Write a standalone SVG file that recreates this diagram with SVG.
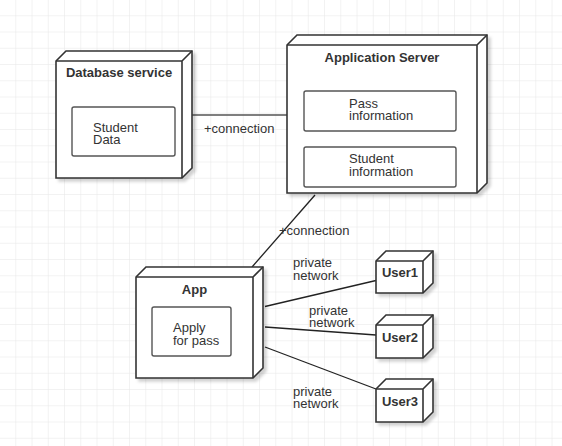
<svg xmlns="http://www.w3.org/2000/svg" width="562" height="446" viewBox="0 0 562 446">
<style>
.box{fill:#fff;stroke:#333;stroke-width:1.6;stroke-linejoin:miter}
.edge{fill:none;stroke:#333;stroke-width:1.6}
.inner{fill:#fff;stroke:#555;stroke-width:1.4}
.conn{fill:none;stroke:#222;stroke-width:1.3}
.t{font-family:"Liberation Sans",Arial,sans-serif;font-size:13px;fill:#333}
.b{font-weight:bold;text-anchor:middle}
</style>
<defs>
<pattern id="grid" width="16.25" height="16.25" patternUnits="userSpaceOnUse">
<path d="M16.25 0V16.25M0 16.25H16.25" fill="none" stroke="#e6e6e6" stroke-width="1"/>
</pattern>
<filter id="sh" x="-10%" y="-10%" width="130%" height="130%">
<feDropShadow dx="3" dy="3" stdDeviation="1.5" flood-color="#000" flood-opacity="0.18"/>
</filter>
</defs>
<rect width="562" height="446" fill="#fff"/>
<rect width="562" height="446" fill="url(#grid)"/>

<g id="connectors">
<line class="conn" x1="192" y1="115" x2="287" y2="115" style="stroke:#555;stroke-width:1.6"/>
<text class="t" x="204" y="133">+connection</text>
<line class="conn" x1="315" y1="195" x2="252" y2="267"/>
<text class="t" x="279" y="235">+connection</text>
<line class="conn" x1="265" y1="306.5" x2="376" y2="280.5"/>
<line class="conn" x1="265" y1="327" x2="376" y2="335"/>
<line class="conn" x1="265" y1="347" x2="376" y2="389"/>
<text class="t" x="293" y="267.3">private<tspan x="293" dy="12.2">network</tspan></text>
<text class="t" x="309" y="315">private<tspan x="309" dy="12.3">network</tspan></text>
<text class="t" x="293" y="395.7">private<tspan x="293" dy="12">network</tspan></text>
</g>

<g id="database-service">
<path class="box" filter="url(#sh)" d="M56 61L66 51H192V168L182 178H56Z"/>
<path class="edge" d="M56 61H182L192 51M182 61V178"/>
<text class="t b" x="119" y="77">Database service</text>
<rect class="inner" x="72" y="107" width="103" height="49" rx="2"/>
<text class="t" x="93" y="131.7">Student<tspan x="93" dy="12.3">Data</tspan></text>
</g>

<g id="application-server">
<path class="box" filter="url(#sh)" d="M287 45L297 35H487V183L477 193H287Z"/>
<path class="edge" d="M287 45H477L487 35M477 45V193"/>
<text class="t b" x="382" y="61.7">Application Server</text>
<rect class="inner" x="304" y="91" width="152" height="40" rx="2"/>
<text class="t" x="349" y="107.7">Pass<tspan x="349" dy="12.3">information</tspan></text>
<rect class="inner" x="304" y="147" width="152" height="40" rx="2"/>
<text class="t" x="349" y="163.3">Student<tspan x="349" dy="12.4">information</tspan></text>
</g>

<g id="app">
<path class="box" filter="url(#sh)" d="M136 277L146 267H263V368L253 378H136Z"/>
<path class="edge" d="M136 277H253L263 267M253 277V378"/>
<text class="t b" x="194.5" y="294">App</text>
<rect class="inner" x="152" y="307" width="79" height="49" rx="2"/>
<text class="t" x="173" y="332.3">Apply<tspan x="173" dy="12.2">for pass</tspan></text>
</g>

<g id="user1">
<path class="box" filter="url(#sh)" d="M376 261L386 251H433V283L423 293H376Z"/>
<path class="edge" d="M376 261H423L433 251M423 261V293"/>
<text class="t b" x="400" y="277.3">User1</text>
</g>

<g id="user2">
<path class="box" filter="url(#sh)" d="M376 325L386 315H433V348L423 358H376Z"/>
<path class="edge" d="M376 325H423L433 315M423 325V358"/>
<text class="t b" x="400" y="341.7">User2</text>
</g>

<g id="user3">
<path class="box" filter="url(#sh)" d="M376 389L386 379H433V412L423 422H376Z"/>
<path class="edge" d="M376 389H423L433 379M423 389V422"/>
<text class="t b" x="400" y="405.7">User3</text>
</g>
</svg>
